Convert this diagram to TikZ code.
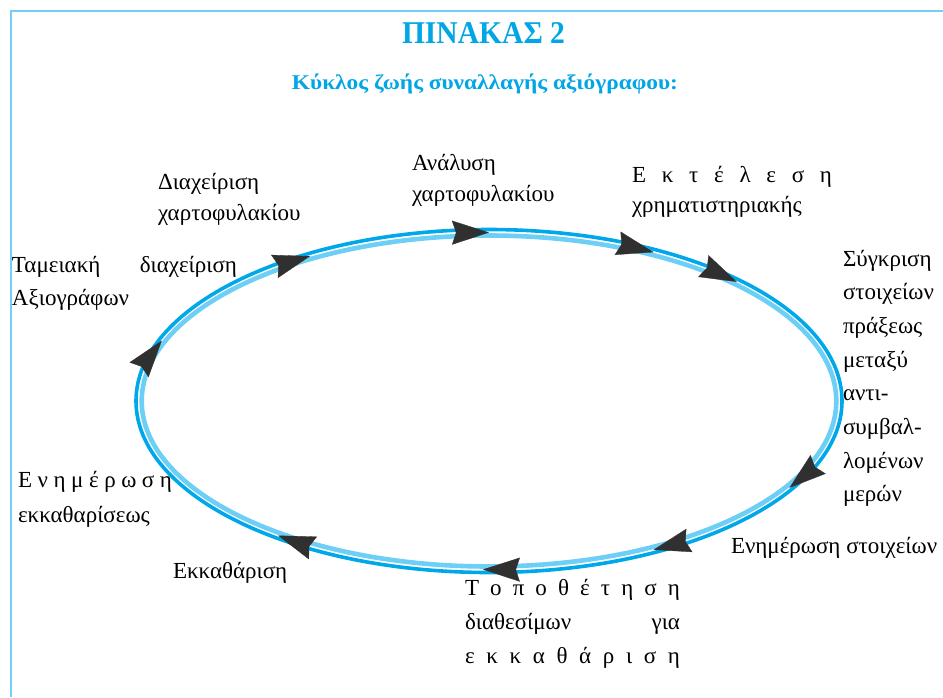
\documentclass[tikz,border=0pt]{standalone}
\usepackage{fontspec}
\setmainfont{Liberation Serif}
\usetikzlibrary{arrows.meta}
\definecolor{cyandark}{HTML}{00A8EA}
\definecolor{cyanlight}{HTML}{6ECFF6}
\definecolor{framec}{HTML}{72D0F6}
\definecolor{tipgray}{HTML}{303030}
\definecolor{titlec}{HTML}{00A6E6}
\newcommand{\lbltext}[2]{\parbox[t]{260pt}{\fontsize{23}{#1}\selectfont #2}}
\begin{document}
\begin{tikzpicture}[x=1pt,y=-1pt,
  lbl/.style={anchor=base west, inner sep=0pt, outer sep=0pt},
  tipmark/.style={draw=tipgray, line width=0.3pt, -{Stealth[length=37pt,width=24pt,inset=4pt,fill=tipgray]}},
  ringdark/.style={cyandark, line width=3.6pt},
  ringlight/.style={cyanlight, line width=4.6pt},
  ttl/.style={anchor=base, inner sep=0pt, text=titlec}
]
\useasboundingbox (0,0) rectangle (943,697);
\fill[white] (0,0) rectangle (943,697);
\draw[framec, line width=2.4pt] (11,697) -- (11,11) -- (943,11);

% titles
\node[ttl] (title) at (483.5,43) {\resizebox{163pt}{\height}{\fontsize{31.7}{36}\selectfont\bfseries ΠΙΝΑΚΑΣ 2}};
\node[ttl] (subtitle) at (485,89) {\resizebox{386pt}{\height}{\fontsize{21}{25}\selectfont\bfseries Κύκλος ζωής συναλλαγής αξιόγραφου:}};

% cycle ring
\coordinate (C) at (489,401);
\draw[ringlight] (C) ellipse [x radius=347.3pt, y radius=165.5pt];
\draw[ringdark] (C) ellipse [x radius=353pt, y radius=171.5pt];

% arrowheads (clockwise)
\foreach \t [count=\i] in {159,120.7,90,62,45,-31,-62,-91,-127} {
  \coordinate (s\i) at ({489+350.5*cos(\t+1)},{401-168.5*sin(\t+1)});
  \coordinate (e\i) at ({489+350.5*cos(\t)},{401-168.5*sin(\t)});
  \draw[tipmark] (s\i) -- (e\i);
}

% labels
\node[lbl] (analysis) at (412,170) {\lbltext{31}{Ανάλυση\\χαρτοφυλακίου}};
\node[lbl] (portfolio) at (158,189) {\lbltext{31}{Διαχείριση\\χαρτοφυλακίου}};
\node[lbl] (execution) at (632,182) {\lbltext{30}{\makebox[200pt][s]{Ε κ τ έ λ ε σ η}\\χρηματιστηριακής}};
\node[lbl] (compare) at (843,266) {\lbltext{33.7}{Σύγκριση\\στοιχείων\\πράξεως\\μεταξύ\\αντι-\\συμβαλ-\\λομένων\\μερών}};
\node[lbl] (update) at (731,553) {\lbltext{33}{Ενημέρωση στοιχείων}};
\node[lbl] (placement) at (465,595) {\lbltext{34}{\makebox[215pt][s]{Τ ο π ο θ έ τ η σ η}\\\makebox[215pt][s]{διαθεσίμων για}\\\makebox[215pt][s]{ε κ κ α θ ά ρ ι σ η}}};
\node[lbl] (clearing) at (173,578) {\lbltext{33}{Εκκαθάριση}};
\node[lbl] (clearupd) at (18,487) {\lbltext{35}{\makebox[154pt][s]{Ε ν η μ έ ρ ω σ η}\\εκκαθαρίσεως}};
\node[lbl] (cash) at (12,272) {\lbltext{33}{\makebox[225pt][s]{Ταμειακή διαχείριση}\\Αξιογράφων}};
\end{tikzpicture}
\end{document}
